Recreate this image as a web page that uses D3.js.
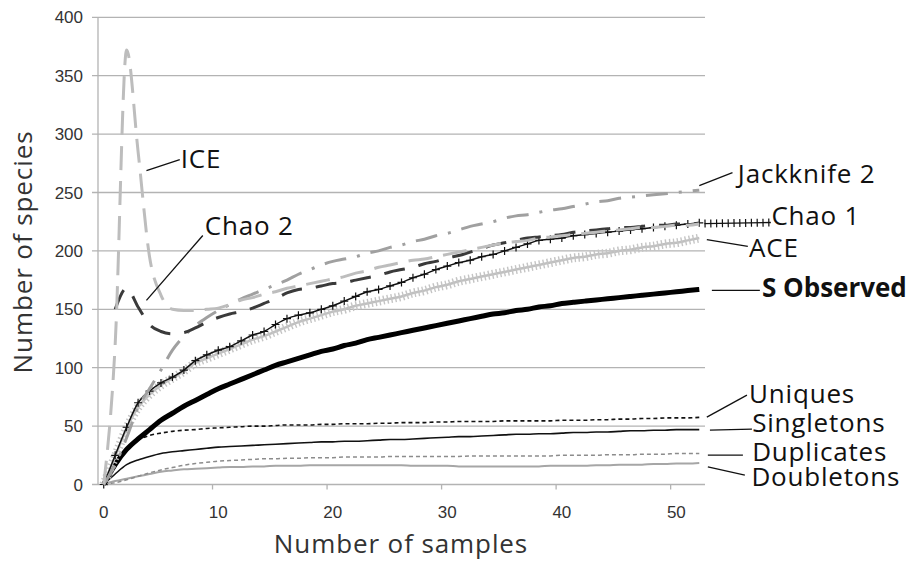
<!DOCTYPE html>
<html>
<head>
<meta charset="utf-8">
<script src="https://cdn.jsdelivr.net/npm/d3@7/dist/d3.min.js"></script>
<style>
  body { margin: 0; background: #fff; }
  svg { display: block; }
</style>
</head>
<body>
<svg width="911" height="561"></svg>
<script>
// sample index 0..52 is the x category of every series below
const samples = d3.range(53);
const xTicks = [0, 10, 20, 30, 40, 50];
const yTicks = [0, 50, 100, 150, 200, 250, 300, 350, 400];

const sObserved = [0,17,30,39,47,55,61,67,72,77,82,86,90,94,98,102,105,108,111,114,116,119,121,124,126,128,130,132,134,136,138,140,142,144,146,147,149,150,152,153,155,156,157,158,159,160,161,162,163,164,165,166,167];
const chao1 = [0,25,49,70,80,87,92,98,106,111,115,118,123,128,131,137,142,145,147,150,153,157,161,165,167,170,173,177,180,184,187,190,192,195,197,200,203,206,209,210,211,213,214,215,216,217,218,219,220,221,222,223,224];
const ace = [0,24,48,66,77,85,91,97,104,108,112,116,120,124,127,131,135,139,142,145,148,150,153,155,157,159,161,164,166,169,171,174,176,178,180,182,184,186,188,190,192,194,195,197,198,200,201,203,204,206,207,209,211];
const jackknife2 = [0,17,40,66,82,98,115,127,136,143,149,154,159,163,167,171,175,180,184,188,191,193,195,198,200,203,205,208,210,213,215,218,221,223,225,228,230,231,233,235,236,238,240,242,243,245,246,247,248,249,250,251,252];
const chao2 = [null,150,168,152,137,131,129,130,134,139,143,146,148,151,155,159,164,167,168,170,172,173,175,177,179,182,184,186,189,191,194,196,199,202,205,207,209,211,212,213,214,216,217,218,219,220,220,221,222,222,223,223,224];
const ice = [0,120,372,285,195,162,150,149,149,150,151,154,158,160,163,165,168,170,172,174,176,178,181,183,186,188,190,192,193,195,197,199,201,203,205,207,208,209,211,212,213,214,215,216,217,218,219,220,220,221,222,222,223];
const uniques = [0,17,31,38,42,44,45.5,46.5,47,48,48.5,49,49.5,50,50,50.5,51,51,51,51.5,51.5,52,52,52,52.5,52.5,53,53,53,53.5,53.5,54,54,54,54,54.5,54.5,54.5,54.5,54.5,55,55,55,55.5,55.5,56,56,56.5,56.5,57,57,57,57.5];
const singletons = [0,9,17,21,24,26.5,28,29,30,31,32,32.5,33,33.5,34,34.5,35,35.5,36,36.5,36.5,37,37,37.5,38,38.5,38.5,39,39.5,40,40.5,41,41,41.5,42,42.5,43,43,43.5,43.5,44,44.5,44.5,45,45,45.5,46,46,46.5,46.5,47,47,47];
const duplicates = [0,1.5,4,7,10,12.5,14.5,16.5,18,19,20,20.5,21,21.5,22,22,22.5,22.5,23,23,23,23.5,23.5,23.5,23.5,24,24,24,24,24,24,24,24.5,24.5,24.5,24.5,24.5,24.5,24.5,24.5,25,25,25,25,25.5,25.5,25.5,26,26,26,26.5,26.5,26.5];
const doubletons = [0,3,5,7,9,11,12,13,13.5,14,14.5,15,15,15.5,15.5,16,16,16,16.5,16.5,16.5,16.5,16.5,16.5,16.5,16.5,16.5,16,16,16,16,15.5,15.5,15.5,15.5,15.5,15.5,15.5,15.5,16,16,16,16,16.5,16.5,17,17,17,17.5,17.5,18,18,18.5];

// drawing order: first is bottom
const series = [
  { name: 'Doubletons', values: doubletons, stroke: '#a6a6a6', width: 2 },
  { name: 'Duplicates', values: duplicates, stroke: '#8c8c8c', width: 1.5, dash: '4,3' },
  { name: 'Singletons', values: singletons, stroke: '#111', width: 1.6 },
  { name: 'Uniques', values: uniques, stroke: '#111', width: 1.6, dash: '4,3' },
  { name: 'S Observed', values: sObserved, stroke: '#000', width: 5 },
  { name: 'ACE', values: ace, stroke: '#c0c0c0', width: 2.5, comb: true },
  { name: 'Chao 1', values: chao1, stroke: '#111', width: 1.5, plus: true },
  { name: 'Jackknife 2', values: jackknife2, stroke: '#a0a0a0', width: 3, dash: '22,11,3,11' },
  { name: 'Chao 2', values: chao2, stroke: '#3a3a3a', width: 3, dash: '21,14' },
  { name: 'ICE', values: ice, stroke: '#bdbdbd', width: 3, dash: '24,11' }
];

// label text + leader line, in data units (sample, species)
const labels = [
  { text: 'ICE',         from: [3.73, 268.7], to: [6.64, 278.1], at: [6.72, 271.3] },
  { text: 'Chao 2',      from: [3.73, 157.6], to: [8.65, 213.2], at: [8.82, 214] },
  { text: 'Jackknife 2', from: [52.0, 255.9], to: [54.9, 267],   at: [55.37, 258.4] },
  { text: 'Chao 1',      from: [52.45, 223.4], to: [58.25, 224.3], at: [58.3, 222.6], plus: true },
  { text: 'ACE',         from: [52.66, 209.7], to: [56.24, 203.8], at: [56.35, 194.4] },
  { text: 'S Observed',  from: [53.1, 166.2], to: [57.29, 166.2], at: [57.47, 160.2], bold: true },
  { text: 'Uniques',     from: [52.66, 57.7], to: [56.16, 76.5],  at: [56.35, 69.6] },
  { text: 'Singletons',  from: [52.93, 46.6], to: [56.6, 47.4],   at: [56.62, 44.9] },
  { text: 'Duplicates',  from: [52.75, 25.2], to: [55.81, 25.2],  at: [56.62, 20.1] },
  { text: 'Doubletons',  from: [52.75, 15],   to: [55.98, 8.1],   at: [56.55, -1.3] }
];

const svg = d3.select('svg');
const x = d3.scaleLinear().domain([-0.5, 52.5]).range([98, 705]);
const y = d3.scaleLinear().domain([0, 400]).range([484.5, 17.3]);
const gridCol = '#b3b3b3';
const labelFont = '"Open Sans", sans-serif';

// grid lines
svg.append('g').selectAll('line').data(yTicks).join('line')
  .attr('x1', 92).attr('x2', x(52.5))
  .attr('y1', d => y(d)).attr('y2', d => y(d))
  .attr('stroke', gridCol).attr('stroke-width', 1.3);

// axes lines and ticks
svg.append('line').attr('x1', x(-0.5)).attr('x2', x(-0.5))
  .attr('y1', y(0)).attr('y2', y(400)).attr('stroke', gridCol).attr('stroke-width', 1.3);
svg.append('g').selectAll('line').data(xTicks.slice(1)).join('line')
  .attr('x1', d => x(d - 0.5)).attr('x2', d => x(d - 0.5))
  .attr('y1', y(0)).attr('y2', y(0) + 5)
  .attr('stroke', gridCol).attr('stroke-width', 1.3);

svg.append('g').selectAll('text').data(yTicks).join('text')
  .attr('x', 83).attr('y', d => y(d)).attr('dy', '0.36em')
  .attr('text-anchor', 'end')
  .style('font', '17px "Liberation Sans", Arial, sans-serif').attr('fill', '#333')
  .text(d => d);
svg.append('g').selectAll('text').data(xTicks).join('text')
  .attr('x', d => x(d)).attr('y', 518)
  .attr('text-anchor', 'middle')
  .style('font', '17px "Liberation Sans", Arial, sans-serif').attr('fill', '#333')
  .text(d => d);

// axis titles
svg.append('text').attr('transform', 'translate(32,252) rotate(-90)')
  .attr('text-anchor', 'middle').style('font', `26px ${labelFont}`)
  .style('letter-spacing', '0.9px').attr('fill', '#333')
  .text('Number of species');
svg.append('text').attr('x', 401).attr('y', 553)
  .attr('text-anchor', 'middle').style('font', `26px ${labelFont}`)
  .style('letter-spacing', '0.9px').attr('fill', '#333')
  .text('Number of samples');

// series
const line = d3.line()
  .defined(d => d != null)
  .x((d, i) => x(samples[i])).y(d => y(d))
  .curve(d3.curveMonotoneX);
const seriesG = svg.append('g');
series.forEach(s => {
  seriesG.append('path').datum(s.values)
    .attr('d', line).attr('fill', 'none')
    .attr('stroke', s.stroke).attr('stroke-width', s.width)
    .attr('stroke-dasharray', s.dash || null)
    .attr('stroke-linejoin', 'round');
  if (s.comb) {
    seriesG.append('path').datum(s.values)
      .attr('d', line).attr('fill', 'none')
      .attr('stroke', '#c4c4c4').attr('stroke-width', 9)
      .attr('stroke-dasharray', '1.4,2.6');
  }
  if (s.plus) {
    seriesG.append('g').selectAll('path').data(s.values).join('path')
      .attr('d', (d, i) => `M${x(samples[i]) - 4},${y(d)}h8M${x(samples[i])},${y(d) - 4}v8`)
      .attr('stroke', s.stroke).attr('stroke-width', 1.2);
  }
});

// labels with leader lines
const labG = svg.append('g');
labels.forEach(l => {
  labG.append('line')
    .attr('x1', x(l.from[0])).attr('y1', y(l.from[1]))
    .attr('x2', x(l.to[0])).attr('y2', y(l.to[1]))
    .attr('stroke', '#111').attr('stroke-width', 1.3);
  if (l.plus) {
    labG.append('line')
      .attr('x1', x(l.from[0])).attr('y1', y(l.from[1]))
      .attr('x2', x(l.to[0])).attr('y2', y(l.to[1]))
      .attr('stroke', '#111').attr('stroke-width', 8)
      .attr('stroke-dasharray', '1.2,4.6');
  }
  labG.append('text')
    .attr('x', x(l.at[0])).attr('y', y(l.at[1]))
    .style('font', `${l.bold ? 'bold ' : ''}26px ${labelFont}`)
    .style('letter-spacing', l.bold ? null : '0.8px')
    .attr('fill', '#111')
    .text(l.text);
});
</script>
</body>
</html>
